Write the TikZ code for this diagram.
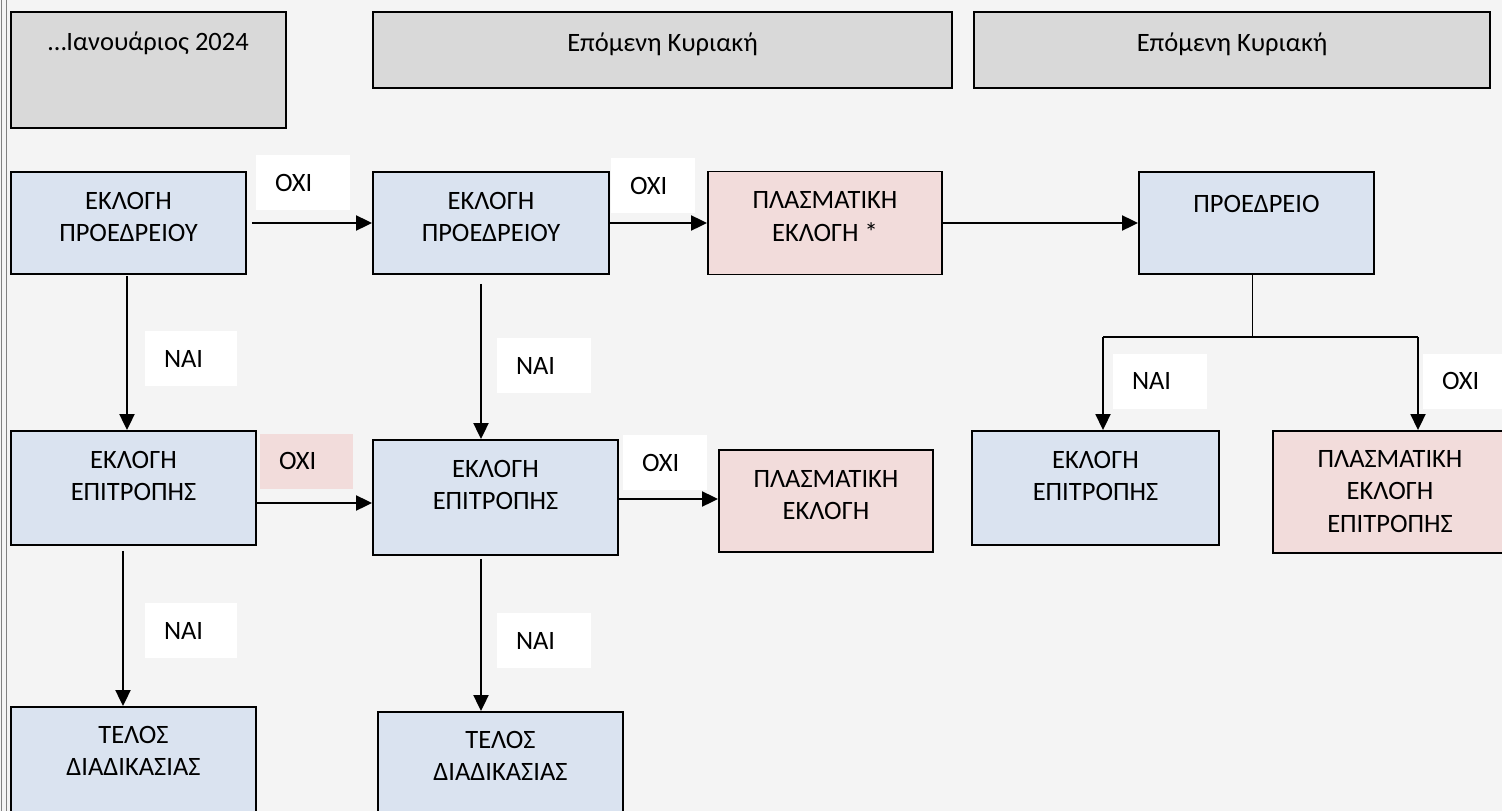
\documentclass[tikz,border=0pt]{standalone}
\usepackage{fontspec}
\setmainfont{Carlito}
\usetikzlibrary{arrows.meta}
\definecolor{bg}{HTML}{F4F4F4}
\definecolor{gbox}{HTML}{D9D9D9}
\definecolor{bbox}{HTML}{DAE3F0}
\definecolor{pbox}{HTML}{F2DCDB}
\definecolor{edgeline}{HTML}{808080}
\tikzset{
  box/.style={draw=black, line width=1.9pt, inner sep=0pt},
  graybox/.style={box, fill=gbox},
  bluebox/.style={box, fill=bbox},
  pinkbox/.style={box, fill=pbox},
  txt/.style={anchor=north, align=center, inner sep=0pt,
    font=\fontsize{26.5}{32.5}\selectfont, execute at begin node=\rule{0pt}{20pt}},
  tag/.style={fill=white, inner ysep=0pt, inner xsep=19pt, align=left,
    font=\fontsize{26.5}{32.5}\selectfont, minimum height=55pt},
  pinktag/.style={tag, fill=pbox},
  arr/.style={line width=2.1pt, -{Triangle[length=16pt,width=15pt]}},
  link/.style={line width=1.8pt},
}
\begin{document}
\begin{tikzpicture}[x=1pt,y=-1pt]
\useasboundingbox (0,0) rectangle (1502,811);
\clip (0,0) rectangle (1502,811);
\fill[bg] (0,0) rectangle (1502,811);
\draw[edgeline, line width=1pt] (1,0) -- (1,811);
\draw[edgeline, line width=1pt] (6,0) -- (6,811);

% top gray boxes
\node[graybox, minimum width=275pt, minimum height=116pt] (A) at (148.5,70) {};
\node[graybox, minimum width=579pt, minimum height=76pt] (B) at (662.5,50) {};
\node[graybox, minimum width=516pt, minimum height=76pt] (C) at (1232,50) {};
\node[txt] (At) at ([yshift=-19pt]A.north) {…Ιανουάριος 2024};
\node[txt] (Bt) at ([yshift=-20pt]B.north) {Επόμενη Κυριακή};
\node[txt] (Ct) at ([yshift=-20pt]C.north) {Επόμενη Κυριακή};

% row 2
\node[bluebox, minimum width=235pt, minimum height=102pt] (E1) at (128.5,223) {};
\node[bluebox, minimum width=236pt, minimum height=102pt] (E2) at (491,223) {};
\node[pinkbox, minimum width=234pt, minimum height=103pt] (P1) at (825,223) {};
\node[bluebox, minimum width=235pt, minimum height=102pt] (PR) at (1256.5,223) {};
\node[txt] (E1t) at ([yshift=-21pt]E1.north) {ΕΚΛΟΓΗ\\ΠΡΟΕΔΡΕΙΟΥ};
\node[txt] (E2t) at ([yshift=-21pt]E2.north) {ΕΚΛΟΓΗ\\ΠΡΟΕΔΡΕΙΟΥ};
\node[txt] (P1t) at ([yshift=-21pt]P1.north) {ΠΛΑΣΜΑΤΙΚΗ\\ΕΚΛΟΓΗ *};
\node[txt] (PRt) at ([yshift=-21pt]PR.north) {ΠΡΟΕΔΡΕΙΟ};

% row 3
\node[bluebox, minimum width=245pt, minimum height=114pt] (E3) at (133.5,488) {};
\node[bluebox, minimum width=245pt, minimum height=115pt] (E4) at (495.5,497.5) {};
\node[pinkbox, minimum width=214pt, minimum height=102pt] (P2) at (826,501) {};
\node[bluebox, minimum width=247pt, minimum height=114pt] (E5) at (1095.5,488) {};
\node[pinkbox, minimum width=234pt, minimum height=122pt] (P3) at (1390,492) {};
\node[txt] (E3t) at ([yshift=-21pt]E3.north) {ΕΚΛΟΓΗ\\ΕΠΙΤΡΟΠΗΣ};
\node[txt] (E4t) at ([yshift=-21pt]E4.north) {ΕΚΛΟΓΗ\\ΕΠΙΤΡΟΠΗΣ};
\node[txt] (P2t) at ([yshift=-21pt]P2.north) {ΠΛΑΣΜΑΤΙΚΗ\\ΕΚΛΟΓΗ};
\node[txt] (E5t) at ([yshift=-21pt]E5.north) {ΕΚΛΟΓΗ\\ΕΠΙΤΡΟΠΗΣ};
\node[txt] (P3t) at ([yshift=-20pt]P3.north) {ΠΛΑΣΜΑΤΙΚΗ\\ΕΚΛΟΓΗ\\ΕΠΙΤΡΟΠΗΣ};

% row 4
\node[bluebox, minimum width=245pt, minimum height=123pt] (T1) at (133.5,768.5) {};
\node[bluebox, minimum width=245pt, minimum height=123pt] (T2) at (500.5,773.5) {};
\node[txt] (T1t) at ([yshift=-20pt]T1.north) {ΤΕΛΟΣ\\ΔΙΑΔΙΚΑΣΙΑΣ};
\node[txt] (T2t) at ([yshift=-20pt]T2.north) {ΤΕΛΟΣ\\ΔΙΑΔΙΚΑΣΙΑΣ};

% tags
\node[tag, text width=56pt] (o1) at (303,182.5) {ΟΧΙ};
\node[tag, text width=46pt] (o2) at (653,185.5) {ΟΧΙ};
\node[tag, text width=54pt] (n1) at (191,358.5) {ΝΑΙ};
\node[tag, text width=56pt] (n2) at (544,365.5) {ΝΑΙ};
\node[pinktag, text width=55pt] (o3) at (306.5,461) {ΟΧΙ};
\node[tag, text width=46pt] (o4) at (665,462.5) {ΟΧΙ};
\node[tag, text width=54pt] (n3) at (191,630.5) {ΝΑΙ};
\node[tag, text width=56pt] (n4) at (544,640.5) {ΝΑΙ};
\node[tag, text width=56pt] (n5) at (1160,381) {ΝΑΙ};
\node[tag, text width=56pt] (o5) at (1470,381) {ΟΧΙ};

% connectors
\draw[arr] ([xshift=5pt]E1.east) -- (E2.west);
\draw[arr] (E2.east) -- (P1.west |- E2.east);
\draw[arr] (P1.east) -- (PR.west |- P1.east);
\draw[arr] ([xshift=-1.5pt,yshift=-1pt]E1.south) -- ([xshift=-1.5pt]E1.south |- E3.north);
\draw[arr] ([xshift=-10pt,yshift=-9pt]E2.south) -- ([xshift=-10pt]E2.south |- E4.north);
\draw[arr] ([yshift=-15pt]E3.east) -- ([yshift=-15pt]E3.east -| E4.west);
\draw[arr] ([yshift=-1.5pt]E4.east) -- ([yshift=-1.5pt]E4.east -| P2.west);
\draw[arr] ([xshift=-10.5pt,yshift=-5pt]E3.south) -- ([xshift=-10.5pt]E3.south |- T1.north);
\draw[arr] ([xshift=-14.5pt,yshift=-3pt]E4.south) -- ([xshift=-14.5pt]E4.south |- T2.north);

\coordinate (J) at (1252.5,337);
\coordinate (JL) at (1103,337);
\coordinate (JR) at (1418,337);
\draw[link] (J |- PR.south) -- (J);
\draw[link] (JL) -- (JR);
\draw[arr, line width=1.9pt] (JL) -- (JL |- E5.north);
\draw[arr, line width=1.9pt] (JR) -- (JR |- P3.north);
\end{tikzpicture}
\end{document}
